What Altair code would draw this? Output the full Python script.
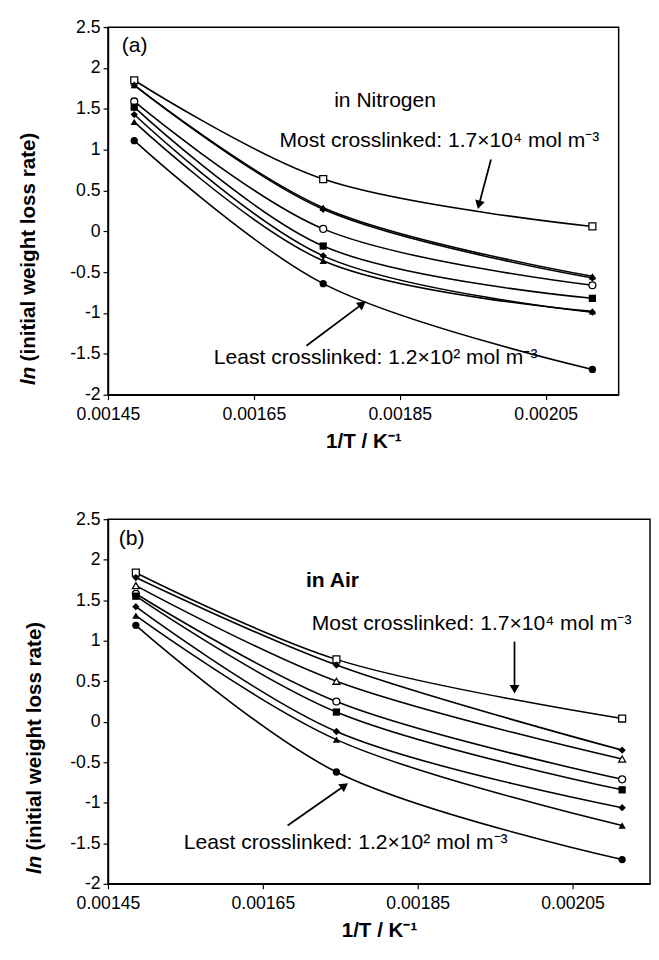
import math
import altair as alt
import pandas as pd

# ---------------- data ----------------
x_vals = [0.001486, 0.001745, 0.002114]          # 1/T (K^-1)
series_ids = ["s1", "s2", "s3", "s4", "s5", "s6", "s7", "s8"]

a_s1 = [1.85, 0.64, 0.06]
a_s2 = [1.79, 0.27, -0.57]
a_s3 = [1.79, 0.29, -0.55]
a_s4 = [1.59, 0.03, -0.66]
a_s5 = [1.52, -0.18, -0.82]
a_s6 = [1.43, -0.30, -0.99]
a_s7 = [1.34, -0.36, -0.98]
a_s8 = [1.11, -0.64, -1.69]

b_s1 = [1.84, 0.77, 0.04]
b_s2 = [1.78, 0.70, -0.35]
b_s3 = [1.68, 0.50, -0.46]
b_s4 = [1.58, 0.25, -0.71]
b_s5 = [1.55, 0.12, -0.84]
b_s6 = [1.42, -0.12, -1.06]
b_s7 = [1.31, -0.22, -1.28]
b_s8 = [1.19, -0.62, -1.70]

x_ticks = [0.00145, 0.00165, 0.00185, 0.00205]
y_ticks = [-2, -1.5, -1, -0.5, 0, 0.5, 1, 1.5, 2, 2.5]

# annotation texts (data coordinates)
a_notes_text = ["(a)", "in Nitrogen", "Most crosslinked: 1.7×10⁴ mol m⁻³", "Least crosslinked: 1.2×10² mol m⁻³"]
a_notes_x = [0.001469, 0.00176, 0.001685, 0.001595]
a_notes_y = [2.27, 1.60, 1.10, -1.55]
b_notes_text = ["(b)", "Most crosslinked: 1.7×10⁴ mol m⁻³", "Least crosslinked: 1.2×10² mol m⁻³"]
b_notes_x = [0.001464, 0.001713, 0.001548]
b_notes_y = [2.26, 1.20, -1.50]
b_bold_text = ["in Air"]
b_bold_x = [0.00174]
b_bold_y = [1.74]

# arrows: start (x1,y1) -> tip (x2,y2)
a_arrow_x1 = [0.001975, 0.001722]
a_arrow_y1 = [0.88, -1.40]
a_arrow_x2 = [0.001959, 0.001797]
a_arrow_y2 = [0.34, -0.90]
b_arrow_x1 = [0.001975, 0.001682]
b_arrow_y1 = [0.99, -1.28]
b_arrow_x2 = [0.001975, 0.001754]
b_arrow_y2 = [0.42, -0.80]

# ---------------- style ----------------
FONT = "Liberation Sans"
X_DOMAIN = [0.00145, 0.00215]
Y_DOMAIN = [-2, 2.5]
NOTE_SIZE = 21.5
a_shapes = ["square", "diamond", "triangle-up", "circle", "square", "diamond", "triangle-up", "circle"]
a_filled = [False, True, True, False, True, True, True, True]
b_shapes = ["square", "diamond", "triangle-up", "circle", "square", "diamond", "triangle-up", "circle"]
b_filled = [False, True, False, False, True, True, True, True]


def long_df(rows, shapes, filled):
    recs = []
    for sid, vals, shp, fl in zip(series_ids, rows, shapes, filled):
        for xv, yv in zip(x_vals, vals):
            recs.append({"series": sid, "x": xv, "y": yv, "shape": shp, "filled": fl})
    return pd.DataFrame(recs)


def arrow_df(x1, y1, x2, y2, w, h):
    recs = []
    for a, b, c, d in zip(x1, y1, x2, y2):
        dx = (c - a) / (X_DOMAIN[1] - X_DOMAIN[0]) * w
        dy = -(d - b) / (Y_DOMAIN[1] - Y_DOMAIN[0]) * h
        ang = math.degrees(math.atan2(dx, -dy)) % 360
        recs.append({"x1": a, "y1": b, "x2": c, "y2": d, "ang": ang})
    return pd.DataFrame(recs)


def panel(rows, shapes, filled, notes, bold_notes, arrows, w, h, ytitle_x):
    df = long_df(rows, shapes, filled)
    xs = alt.Scale(domain=X_DOMAIN, nice=False, zero=False)
    ys = alt.Scale(domain=Y_DOMAIN, nice=False, zero=False)
    xenc = alt.X("x:Q", scale=xs, axis=alt.Axis(
        values=x_ticks, format=".5f", title="1/T / K⁻¹", labelFlush=False,
        labelOverlap=False, grid=False, tickSize=5, labelPadding=6,
        titlePadding=8))
    yenc = alt.Y("y:Q", scale=ys, axis=alt.Axis(
        values=y_ticks, grid=False, tickSize=5, labelPadding=3, title=None,
        labelOverlap=False, labelFlush=False,
        labelExpr="datum.value == 0 ? '0' : (datum.value < 0 ? '-' : '') + format(abs(datum.value), '.1~f')"))

    base = alt.Chart(df)
    lines = base.mark_line(interpolate="catmull-rom", color="black", strokeWidth=1.6).encode(
        x=xenc, y=yenc, detail="series:N")
    open_pts = base.transform_filter("!datum.filled").mark_point(
        filled=True, fill="white", stroke="black", strokeWidth=1.3, size=50, opacity=1).encode(
        x="x:Q", y="y:Q", shape=alt.Shape("shape:N", scale=None))
    fill_pts = base.transform_filter("datum.filled").mark_point(
        filled=True, color="black", size=55, opacity=1).encode(
        x="x:Q", y="y:Q", shape=alt.Shape("shape:N", scale=None))

    nt, nx, ny = notes
    ndf = pd.DataFrame({"t": nt, "x": nx, "y": ny})
    note_layer = alt.Chart(ndf).mark_text(
        align="left", baseline="middle", font=FONT, fontSize=NOTE_SIZE, color="black").encode(
        x="x:Q", y="y:Q", text="t:N")
    layers = [lines, open_pts, fill_pts, note_layer]
    if bold_notes is not None:
        bt, bx, by, bw, bal = bold_notes
        bdf = pd.DataFrame({"t": bt, "x": bx, "y": by})
        layers.append(alt.Chart(bdf).mark_text(
            align=bal, baseline="middle", font=FONT, fontSize=NOTE_SIZE, fontWeight=bw, color="black").encode(
            x="x:Q", y="y:Q", text="t:N"))

    adf = arrow_df(*arrows, w, h)
    layers.append(alt.Chart(adf).mark_rule(color="black", strokeWidth=1.8).encode(
        x="x1:Q", y="y1:Q", x2="x2:Q", y2="y2:Q"))
    layers.append(alt.Chart(adf).mark_point(
        shape="triangle", filled=True, color="black", size=100, opacity=1).encode(
        x="x2:Q", y="y2:Q", angle=alt.Angle("ang:Q", scale=None)))

    # y title: italic "ln" + bold remainder
    ybot = h - 10
    layers.append(alt.Chart(pd.DataFrame({"t": ["ln"]})).mark_text(
        angle=270, align="left", baseline="middle", font=FONT, fontSize=21,
        fontWeight="bold", fontStyle="italic", color="black").encode(
        x=alt.value(ytitle_x), y=alt.value(ybot), text="t:N"))
    layers.append(alt.Chart(pd.DataFrame({"t": ["(initial weight loss rate)"]})).mark_text(
        angle=270, align="left", baseline="middle", font=FONT, fontSize=21,
        fontWeight="bold", color="black").encode(
        x=alt.value(ytitle_x), y=alt.value(ybot - 24), text="t:N"))

    return alt.layer(*layers).properties(width=w, height=h)


pa = panel([a_s1, a_s2, a_s3, a_s4, a_s5, a_s6, a_s7, a_s8], a_shapes, a_filled,
           (a_notes_text, a_notes_x, a_notes_y), None,
           (a_arrow_x1, a_arrow_y1, a_arrow_x2, a_arrow_y2), 521, 375, -80)
pb = panel([b_s1, b_s2, b_s3, b_s4, b_s5, b_s6, b_s7, b_s8], b_shapes, b_filled,
           (b_notes_text, b_notes_x, b_notes_y),
           (b_bold_text, b_bold_x, b_bold_y, "bold", "center"),
           (b_arrow_x1, b_arrow_y1, b_arrow_x2, b_arrow_y2), 553, 372, -74)

chart = alt.concat(pa, pb, columns=1, spacing=58, align="none").properties(
    padding={"left": 10, "top": 0, "right": 0, "bottom": 0}
).configure_view(stroke="black", strokeWidth=1.5).configure_axis(
    domainColor="black", tickColor="black", labelColor="black", titleColor="black",
    labelFont=FONT, titleFont=FONT, labelFontSize=18, titleFontSize=21,
    titleFontWeight="bold", domainWidth=1.5, tickWidth=1.2
)

chart.save("out.html", embed_options={"renderer": "svg", "actions": False})
